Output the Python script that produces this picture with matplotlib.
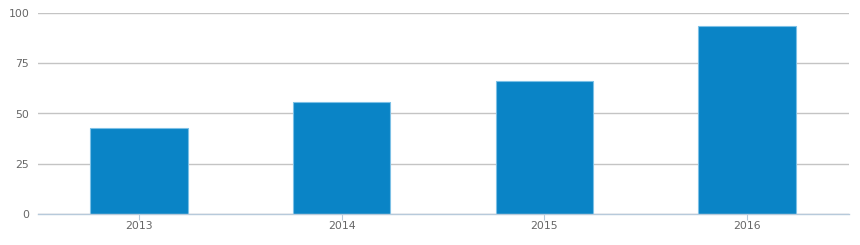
import matplotlib
matplotlib.use("Agg")
from matplotlib import pyplot as plt

years = ["2013", "2014", "2015", "2016"]
values = [43, 55.7, 66.4, 93.3]
yticks = [0, 25, 50, 75, 100]

fig = plt.figure(figsize=(8.6, 2.45), dpi=100)
ax = fig.add_axes([37.5 / 860, 1 - 214 / 245, 811 / 860, 201 / 245])

pos = range(len(years))
ax.bar(pos, values, width=0.48, color="#0a84c6", edgecolor="#7cc0e6", linewidth=0.8, zorder=3)

ax.set_xlim(-0.5, 3.5)
ax.set_ylim(0, 100)
ax.set_yticks(yticks)
ax.set_xticks(list(pos))
ax.set_xticklabels(years)
ax.yaxis.grid(True, color="#c4c4c4", linewidth=1, zorder=0)
ax.set_axisbelow(True)

for s in ["top", "right", "left"]:
    ax.spines[s].set_visible(False)
ax.spines["bottom"].set_color("#b7cadb")
ax.spines["bottom"].set_linewidth(1)
ax.spines["bottom"].set_zorder(4)

ax.tick_params(axis="y", length=0, pad=6, labelsize=7.8, labelcolor="#666666")
ax.tick_params(axis="x", length=4, color="#b7cadb", pad=1, labelsize=7.8, labelcolor="#666666")

fig.savefig("out.png", dpi=100)
